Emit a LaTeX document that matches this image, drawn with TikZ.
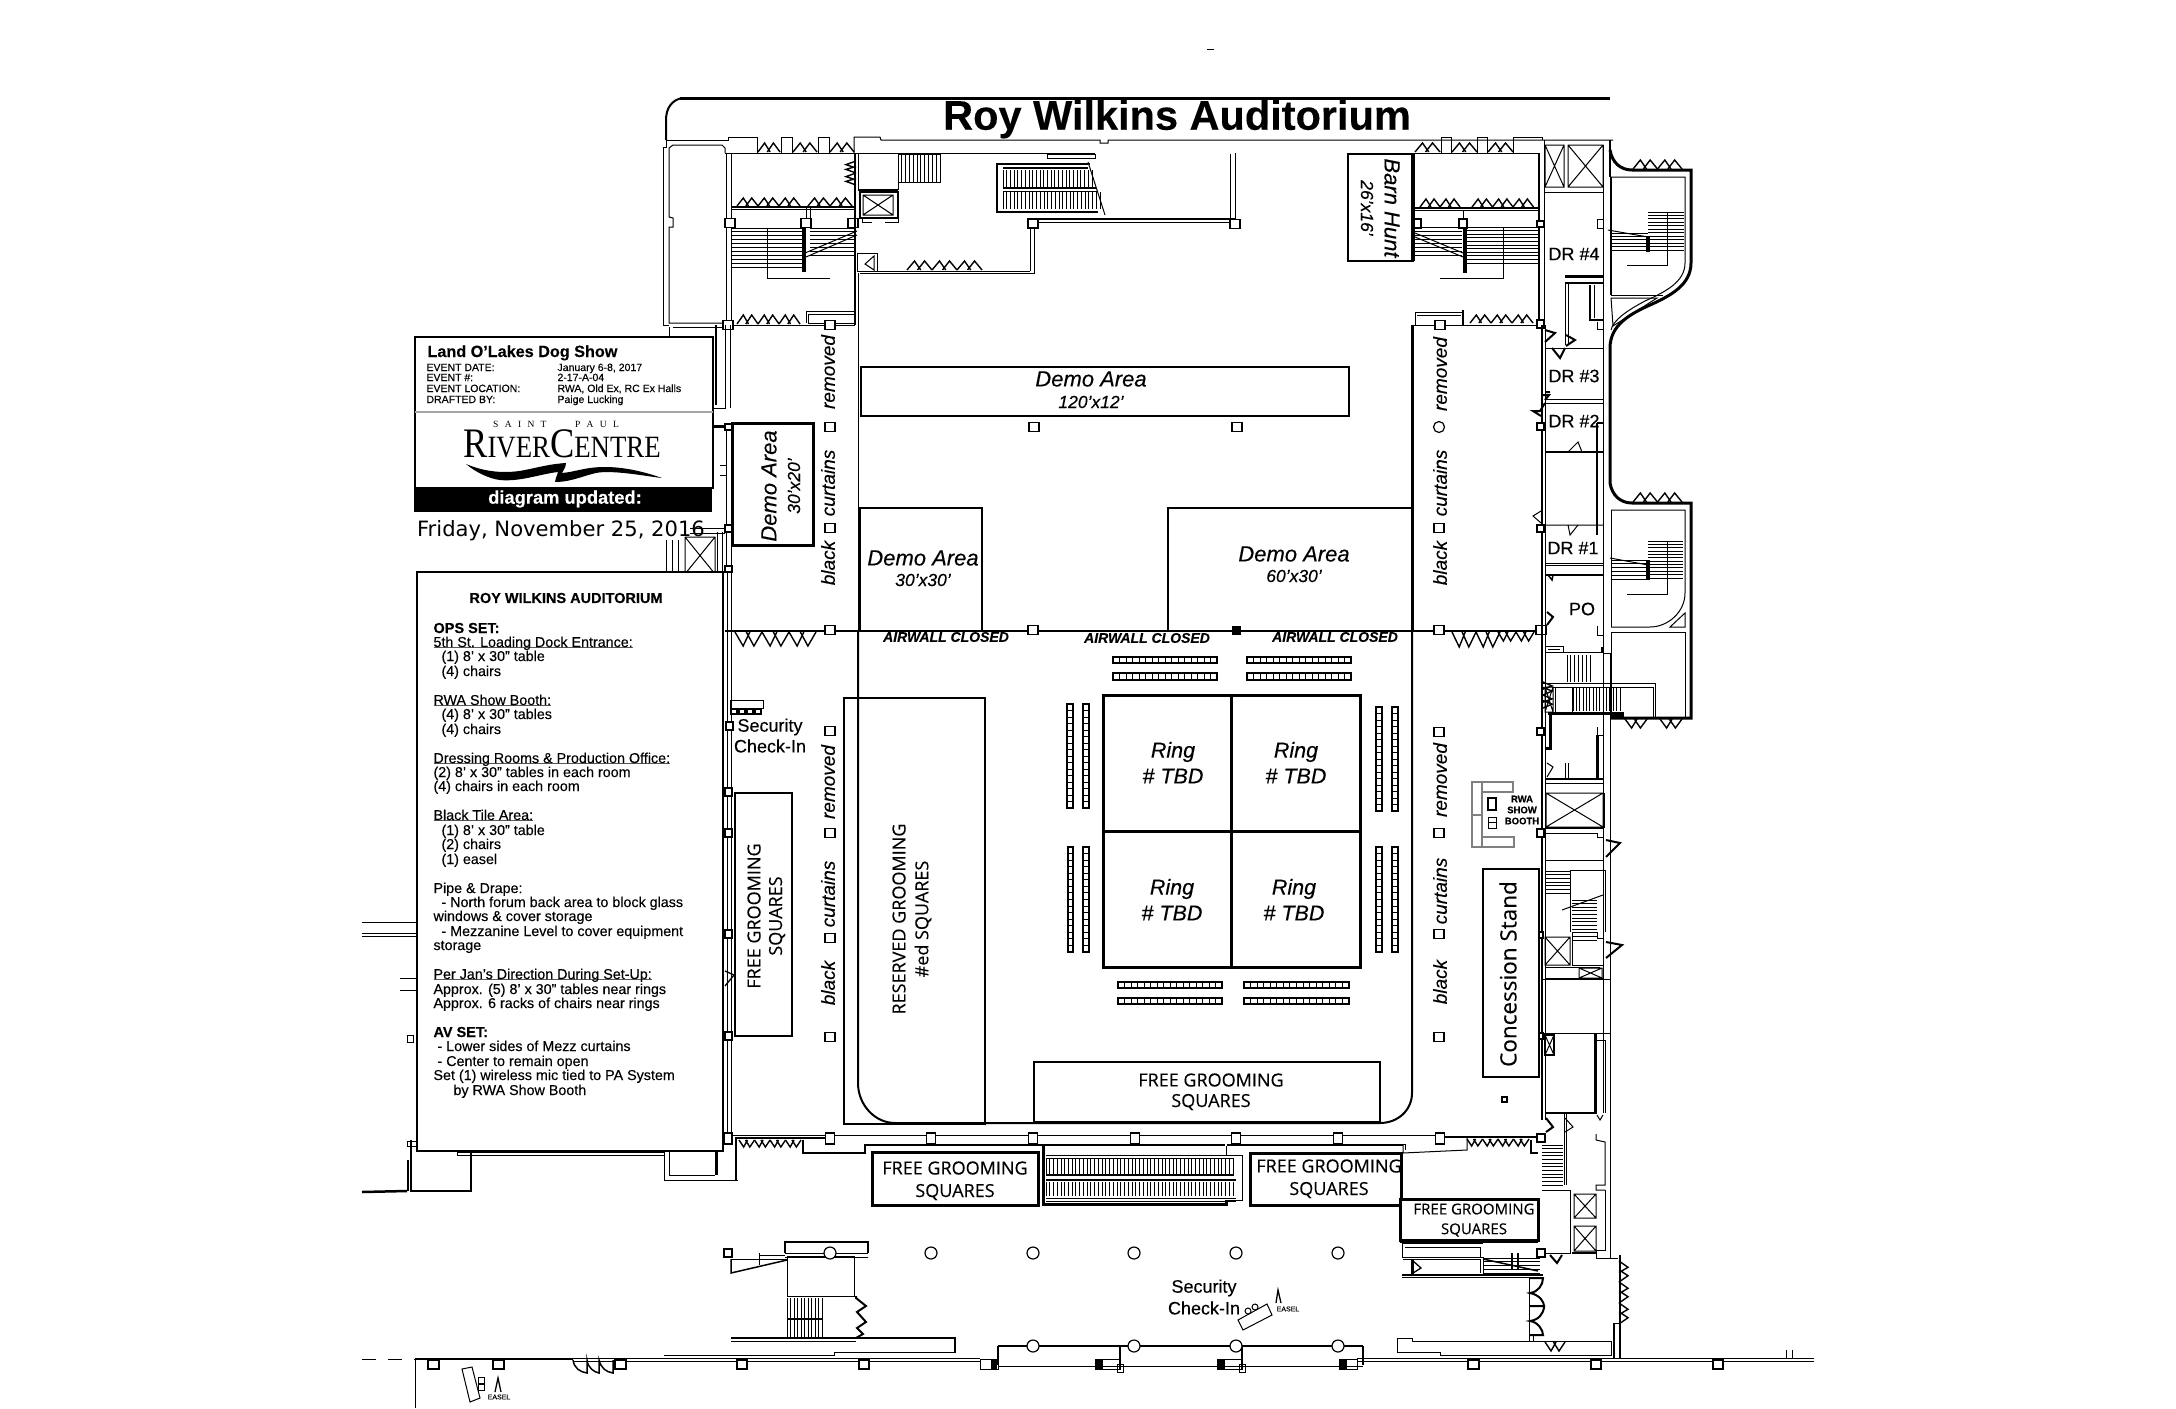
\documentclass[tikz,border=0pt]{standalone}
\usepackage{fontspec}
\usepackage{graphicx}
\setmainfont{Liberation Sans}[FakeBold=0.25]
\newfontfamily\opensans{Open Sans}[FakeBold=0.25]
\newfontfamily\dvs{DejaVu Sans}
\newfontfamily\lserif{Liberation Serif}
\newcommand{\fs}[1]{\fontsize{#1}{#1}\selectfont}
\newcommand{\pil}[2]{\draw[fill=white,line width=1.2pt] (#1-5,#2-4.5) rectangle (#1+5,#2+4.5);}
\newcommand{\pilw}[4]{\draw[fill=white,line width=1.2pt] (#1,#2) rectangle (#3,#4);}
\newcommand{\cir}[2]{\draw[fill=white,line width=1.2pt] (#1,#2) circle (6);}
\newcommand{\xbox}[4]{\draw (#1,#2) rectangle (#3,#4) (#1,#2) -- (#3,#4) (#1,#4) -- (#3,#2);}
\newcommand{\hst}[5]{\foreach \k in {0,...,#5} \draw[line width=.9pt] (#1,{#3+\k*(#4-#3)/#5}) -- (#2,{#3+\k*(#4-#3)/#5});}
\newcommand{\vst}[5]{\foreach \k in {0,...,#5} \draw[line width=.9pt] ({#3+\k*(#4-#3)/#5},#1) -- ({#3+\k*(#4-#3)/#5},#2);}
% x y rotation count unit-width height
\newcommand{\zig}[6]{\begin{scope}[shift={(#1,#2)},rotate=#3]
 \foreach \k in {1,...,#4} \draw[line width=1.4pt,line join=miter] ({(\k-1)*#5},0) -- ({(\k-1+.3)*#5},-#6) -- ({(\k-1+.55)*#5},0) ({(\k-1+.42)*#5},0) -- ({(\k-1+.7)*#5},-#6) -- ({\k*#5},0);
 \end{scope}}
\newcommand{\chairs}[5]{\draw[line width=1.1pt,fill=white] (#1,#2) rectangle (#3,#4);
 \foreach \k in {1,...,15} \draw[line width=1pt] ({#1+(#5)*\k*(#3-#1)/16},{#2+(1-#5)*\k*(#4-#2)/16}) -- ({#1+(#5)*\k*(#3-#1)/16+(1-#5)*(#3-#1)},{#2+(1-#5)*\k*(#4-#2)/16+(#5)*(#4-#2)});}
\newcommand{\tl}[3]{\node[anchor=base west,inner sep=0pt] at (#1,#2) {\fs{14.3}#3};}
\newsavebox{\ulbox}
\newcommand{\ulin}[1]{\sbox{\ulbox}{#1}\rlap{\textcolor{black!65}{\rule[-1.3pt]{\wd\ulbox}{.9pt}}}\usebox{\ulbox}}
\tikzset{w2/.style={line width=2pt},w3/.style={line width=3pt},w4/.style={line width=4pt},lab/.style={inner sep=0pt,align=center}}
\begin{document}
\begin{tikzpicture}[x=1pt,y=-1pt,line width=1pt]
\useasboundingbox (0,0) rectangle (2176,1408);
\fill[white] (0,0) rectangle (2176,1408);
% tiny top mark
\draw (1207,49) -- (1214,49);
% ---------- top wall
\draw[w3] (680,98) -- (1610,98);
\draw[w2] (666,140) -- (666,120) .. controls (666,108) and (672,100) .. (682,98);
\draw (666,140) -- (728,140) -- (728,137) -- (757,137) -- (757,153);
\draw (854,153) -- (854,137) -- (880,137) -- (881,140) -- (1100,140) -- (1100,143) -- (1108,143) -- (1108,140) -- (1613,140);
\draw (725,153) -- (855,153);
\draw (855,153) -- (1095,153);
\draw (781,137) rectangle (792,153) (818,137) rectangle (829,153);
\zig{758}{152}{0}{1}{22}{9} \zig{793}{152}{0}{1}{24}{9} \zig{830}{152}{0}{1}{24}{9}
% ---------- left room
\draw (666,140) -- (666,147) -- (663,147) -- (663,325) -- (669,325) (669,327) -- (669,337);
\draw (725,153) -- (725,148) -- (722,145) -- (673,145) -- (669,148) -- (669,217) -- (673,218) -- (673,227) -- (669,227) -- (669,323) -- (673,323) -- (725,323);
\draw (673,327) -- (725,327);
\draw (726,153) -- (726,325) (731,153) -- (731,325);
% ---------- upper-left stair
\draw[w2] (731,207) -- (855,207);
\draw (731,209) -- (855,209);
\zig{737}{206}{0}{3}{21}{8} \zig{808}{206}{0}{2}{22}{8}
\draw (806,208) -- (806,220) (810,208) -- (810,220);
\hst{731}{802}{228}{267}{10}
\hst{810}{855}{228}{255}{7}
\draw[w4] (804,227) -- (804,272);
\draw (767,228) -- (767,278) -- (830,278);
\draw (805,253) -- (857,231) (806,257) -- (857,235);
\pil{730}{223} \pil{806}{223} \pil{853}{223}
\zig{856}{185}{90}{2}{12}{10}
\draw[w2] (855,153) -- (855,325);
\draw (858,153) -- (858,190);
\draw[w2] (858,190) -- (898,190);
\draw (898,153) -- (898,190);
\draw[w2] (860,192) rectangle (898,218);
\xbox{863}{195}{893}{215}
\draw (862,218) -- (862,222) -- (872,222) (885,222) -- (898,222) -- (898,218);
\draw (898,154) rectangle (940,182);
\vst{154}{182}{898}{940}{11}
\draw (857,253) rectangle (877,271);
\draw (874,256) -- (865,264) -- (874,270) -- cycle;
\draw (858,273) -- (858,631);
\draw (858,271) -- (1030,271) (860,273) -- (1034,273) -- (1034,222);
\zig{907}{270}{0}{3}{25}{9}
\draw (1030,271) -- (1030,222);
\pilw{1028}{219}{1038}{228}
\draw[w2] (1038,219) -- (1235,219);
\draw (1038,222) -- (1230,222) (1230,154) -- (1230,219) (1235,153) -- (1235,222);
\pil{1235}{224}
% escalator top
\draw[line width=2.5pt] (1090,164) -- (997,164) -- (997,212) -- (1098,212);
\vst{170}{187}{1003}{1092}{24}
\vst{192}{209}{1003}{1100}{26}
\draw[w2] (1003,168) -- (1088,168);
\draw[w2] (1003,188) -- (1096,188);
\draw (1003,191) -- (1098,191);
\draw (1088,162) -- (1105,215);
\draw (1047,154) rectangle (1095,158);
% ---------- lower left of upper stair
\zig{737}{324}{0}{3}{21}{9}
\draw (731,325) -- (855,325);
\draw (806,323) -- (806,311) -- (855,311);
\draw (808,314) rectangle (854,323);
\pil{728}{325}
\pil{830}{325}
% ---------- left hall walls
\draw (725,325) -- (725,408) -- (713,408) (730,325) -- (730,408);
\draw[line width=2.5pt] (716,325) -- (716,405);
\draw[w3] (713,426) -- (732,426);
\draw (726,428) -- (726,566) (731,428) -- (731,566);
\pilw{725}{424}{732}{430}
\pilw{725}{525}{732}{532}
\pilw{725}{566}{732}{572}
\draw (690,528) -- (725,528) (690,533) -- (725,533);
\draw (717,532) -- (717,572) (722,532) -- (722,572);
\xbox{685}{537}{715}{574}
\draw (666,540) -- (666,572) (672,540) -- (672,572) (678,540) -- (678,572);
\draw (720,475) -- (726,475) (720,465) -- (726,465);
\draw (727,572) -- (727,1140) (731,572) -- (731,1140);
\foreach \yy in {792,833,934,1036} {\pilw{725}{\yy-4}{732}{\yy+4}}
\pilw{724}{1133}{732}{1144}
\draw[line width=1.3pt] (725,971) -- (734,975) -- (725,986);
% airwall
\draw[line width=2.5pt] (725,631) -- (1540,631);
\zig{735}{632}{0}{3}{27}{-14}
\zig{1452}{632}{0}{2}{24}{-15}
\zig{1498}{632}{0}{2}{18}{-9}
\pil{830}{630} \pil{1033}{630} \pil{1439}{630} \pil{1541}{630}
\fill (1232,626) rectangle (1241,635);
% main hall
\draw[w3] (1412,325) -- (1412,631);
\draw[w2] (1412,631) -- (1412,1093) .. controls (1412,1110) and (1398,1123) .. (1380,1123) -- (895,1123) .. controls (875,1123) and (858,1105) .. (858,1083) -- (858,631);
\draw (1412,325) -- (1540,325);
\foreach \p/\q in {830/427,1034/427,1237/427} {\pil{\p}{\q}}
\pil{830}{528}
\pil{1439}{528}
\draw[line width=1.2pt,fill=white] (1439,427) circle (5.5);
\pil{830}{731} \pil{830}{833} \pil{830}{938} \pil{830}{1037}
\pil{1439}{732} \pil{1439}{833} \pil{1439}{934} \pil{1439}{1037}
% curtain labels
\foreach \xx/\ya/\yb/\yc in {828/372/483/563,1440/374/483/563,828/782/894/983,1440/780/891/982} {
\node[lab,rotate=90] at (\xx,\ya) {\fs{19}\itshape removed};
\node[lab,rotate=90] at (\xx,\yb) {\fs{19}\itshape curtains};
\node[lab,rotate=90] at (\xx,\yc) {\fs{19}\itshape black};
}
% ---------- upper-right stair
\zig{1415}{152}{0}{1}{25}{9} \zig{1452}{152}{0}{1}{25}{9} \zig{1488}{152}{0}{1}{25}{9}
\draw (1441,137) rectangle (1451,153) (1477,137) rectangle (1487,153);
\draw (1513,153) -- (1513,137) -- (1542,137) -- (1542,140);
\draw (1413,153) -- (1539,153);
\draw[w2] (1415,208) -- (1538,208);
\draw (1415,210) -- (1538,210) (1463,210) -- (1463,219);
\zig{1420}{207}{0}{2}{20}{8} \zig{1472}{207}{0}{3}{20.5}{8}
\hst{1415}{1462}{227}{255}{7}
\hst{1465}{1538}{227}{263}{10}
\draw[w4] (1465,228) -- (1465,273);
\draw (1503,227) -- (1503,278) -- (1440,278);
\draw (1415,233) -- (1463,253) (1415,237) -- (1463,257);
\draw[fill=white,line width=2pt] (1413,219) rectangle (1421,228);
\pilw{1459}{219}{1467}{228}
\draw (1415,325) -- (1415,312) -- (1463,312) (1417,315) -- (1461,315);
\draw[w2] (1463,310) -- (1463,325);
\pil{1440}{325}
\zig{1470}{323}{0}{3}{21}{8}
\draw[w2] (1539,153) -- (1539,325);
\draw (1544,140) -- (1544,325);
\pilw{1537}{221}{1544}{227}
\pilw{1537}{320}{1544}{328}
% ---------- right rooms
\draw[w2] (1542,325) -- (1542,1120);
\draw (1545,325) -- (1545,1120);
\draw (1603,145) -- (1603,1033);
\draw (1545,192) -- (1603,192);
\xbox{1545}{145}{1564}{187} \xbox{1568}{145}{1603}{187}
\draw[w2] (1610,140) -- (1610,177);
\draw (1597,224) -- (1597,228) -- (1603,228) (1597,224) -- (1597,219) -- (1603,219);
\draw[w3] (1565,276) -- (1603,276);
\draw[w2] (1565,283) -- (1603,283);
\draw (1565,283) -- (1565,345) (1568,283) -- (1568,345);
\draw[w2] (1590,285) -- (1590,320) -- (1603,320);
\draw (1594,285) -- (1594,318);
\draw (1597,322) -- (1597,329) -- (1603,329);
\draw[w2] (1545,330) -- (1555,333) -- (1545,342) ;
\draw[w2] (1552,348) -- (1560,358) -- (1565,348);
\draw[w2] (1566,335) -- (1575,340) -- (1566,346);
\draw (1545,348) -- (1603,348) (1545,399) -- (1603,399) (1545,403) -- (1603,403);
\draw[w2] (1545,392) -- (1550,392) (1545,400) -- (1549,395) -- (1541,395);
\draw[w2] (1545,403) -- (1540,411) -- (1533,411) -- (1541,416);
\draw[w2] (1545,452) -- (1603,452);
\draw (1568,452) -- (1578,442) -- (1582,452);
\draw[w2] (1597,423) -- (1597,535) (1597,423) -- (1603,423);
\draw (1541,511) -- (1533,516) -- (1541,523) (1545,525) -- (1603,525);
\pilw{1537}{423}{1544}{430}
\pilw{1537}{525}{1544}{532}
\draw (1568,525) -- (1570,535) -- (1578,525);
\draw (1545,563) -- (1603,563) (1545,565) -- (1603,565);
\draw[line width=2.5pt] (1545,575) -- (1603,575);
\draw[line width=1.5pt] (1548,575) -- (1552,580) -- (1553,575);
\draw[w2] (1547,612) -- (1553,617) -- (1547,625);
\draw (1545,610) -- (1545,625);
\draw (1597,626) -- (1597,635) -- (1603,635) (1545,652) -- (1603,652);
\draw (1545,646) rectangle (1563,652);
\draw (1548,649) -- (1560,649);
\fill (1601,647) rectangle (1604,652);
\draw (1603,653) -- (1610,653);
\zig{1543}{682}{-90}{2}{13}{9}
\vst{655}{682}{1567}{1590}{6}
% stair lobby
\draw (1543,683) -- (1655,683) -- (1655,717);
\draw (1552,687) -- (1653,687) -- (1653,717);
\xbox{1545}{687}{1553}{712}
\vst{687}{711}{1573}{1620}{14}
\draw (1555,687) -- (1555,712) (1572,687) -- (1572,712);
\draw[w3] (1548,713) -- (1622,713) -- (1622,716) -- (1611,716);
% outer right structure
\draw[w3] (1610,150) .. controls (1612,162) and (1620,170) .. (1632,170) -- (1691,170) -- (1691,263) .. controls (1691,285) and (1670,296) .. (1650,305) .. controls (1630,314) and (1610,325) .. (1610,348) -- (1610,483) .. controls (1612,495) and (1620,503) .. (1632,503) -- (1691,503) -- (1691,718) -- (1611,718);
\draw (1611,177) -- (1685,177) -- (1685,263) .. controls (1685,282) and (1665,292) .. (1645,301) .. controls (1628,310) and (1613,320) .. (1611,330);
\draw (1611,177) -- (1611,295) -- (1663,295);
\draw (1611,298) -- (1657,298) -- (1613,326) -- cycle;
\draw (1610,177) -- (1610,295);
\zig{1633}{169}{0}{2}{24.5}{9}
\hst{1648}{1684}{212}{250}{11}
\hst{1612}{1648}{233}{250}{5}
\draw[w4] (1648,237) -- (1648,252);
\draw (1608,230) -- (1648,237);
\draw (1667,212) -- (1667,265) -- (1627,265);
% lower flight
\zig{1633}{502}{0}{2}{24.5}{9}
\draw (1611,510) -- (1685,510) -- (1685,593) .. controls (1685,612) and (1668,627) .. (1650,627) -- (1611,627);
\draw (1611,632) -- (1685,632) -- (1685,717);
\draw (1611,510) -- (1611,627) (1611,632) -- (1611,716);
\draw (1670,627) -- (1685,613) -- (1685,627) -- cycle;
\hst{1648}{1683}{541}{578}{11}
\hst{1612}{1648}{560}{579}{5}
\draw[w4] (1648,560) -- (1648,580);
\draw (1610,558) -- (1648,565);
\draw (1667,541) -- (1667,594) -- (1627,594);
\zig{1625}{719}{0}{1}{22}{-9}
\zig{1660}{719}{0}{1}{22}{-9}
\draw (1610,653) -- (1610,1258);
\draw (1603,1033) -- (1603,1113);
% below stair lobby
\draw[w3] (1550,713) -- (1550,748) -- (1545,748);
\pilw{1537}{728}{1544}{735}
\draw (1597,727) -- (1597,735) -- (1603,735);
\draw[w3] (1597,735) -- (1597,779);
\draw (1603,735) -- (1603,779);
\draw[w2] (1545,779) -- (1603,779);
\draw (1565,763) -- (1565,778) (1568,763) -- (1568,778);
\draw (1547,763) -- (1553,767) -- (1547,777);
\draw (1545,783) -- (1603,783);
\xbox{1546}{793}{1603}{827}
\draw[line width=2.5pt] (1546,828) -- (1604,828) (1604,793) -- (1604,828);
\pilw{1537}{829}{1544}{837}
\draw (1545,833) -- (1597,833) -- (1597,837) -- (1603,837);
\draw[w2] (1606,857) -- (1620,843) -- (1606,840);
\draw (1545,860) -- (1603,860);
\draw (1570,870) -- (1605,870) -- (1605,932);
\draw (1570,870) -- (1570,932) (1572,932) -- (1572,965);
\hst{1545}{1570}{871}{893}{6}
\hst{1572}{1597}{900}{940}{11}
\draw (1562,910) -- (1603,895);
\draw (1597,932) -- (1597,938) -- (1603,938);
\draw[w2] (1606,958) -- (1622,945) -- (1606,942);
\xbox{1545}{937}{1570}{965}
\draw (1572,965) -- (1603,965);
\draw (1545,967) -- (1600,967);
\draw[line width=2.5pt] (1545,979) -- (1603,979);
\xbox{1579}{968}{1602}{978}
\pilw{1537}{932}{1543}{938}
\pilw{1537}{1033}{1543}{1039}
\draw (1543,979) -- (1610,979) (1543,1033) -- (1610,1033);
\draw[w2] (1545,1035) rectangle (1554,1055);
\draw (1545,1035) -- (1554,1055) (1545,1055) -- (1554,1035);
\draw[w3] (1595,1033) -- (1595,1113);
\draw (1597,1040) -- (1605,1040) -- (1605,1113);
\draw[w2] (1545,1113) -- (1597,1113);
\draw (1564,1113) -- (1564,1185) (1566,1113) -- (1566,1185);
\draw[w2] (1546,1118) -- (1553,1127) -- (1546,1132);
\draw (1565,1118) -- (1573,1127) -- (1565,1132);
\draw (1597,1115) -- (1600,1120) -- (1603,1115);
\draw (1596,1134) -- (1596,1140) -- (1605,1142) -- (1605,1185) -- (1596,1185) -- (1596,1190) -- (1605,1190);
\hst{1542}{1563}{1145}{1185}{11}
\pilw{1537}{1134}{1545}{1142}
% lift block bottom right
\draw (1542,1190) -- (1570,1190) (1570,1190) -- (1570,1253) -- (1545,1253);
\xbox{1574}{1194}{1596}{1218}
\xbox{1574}{1226}{1596}{1251}
\draw[w2] (1572,1253) -- (1596,1253);
\draw (1605,1190) -- (1605,1250) -- (1596,1250) -- (1596,1258) -- (1618,1258);
\draw (1567,1190) -- (1570,1190);
\pilw{1537}{1249}{1545}{1257}
\draw[w2] (1550,1255) -- (1557,1263) -- (1562,1255);
\draw[w2] (1620,1255) -- (1620,1358);
\draw (1611,1258) -- (1615,1258);
\zig{1619}{1261}{-90}{3}{21}{9}
\draw[w2] (1614,1323) -- (1614,1358);
\draw (1614,1323) -- (1620,1323);
% entrance door arcs
\draw (1529,1278) -- (1529,1341) (1533,1335) -- (1533,1341);
\draw[w2] (1530,1278) -- (1543,1278) .. controls (1543,1285) and (1538,1292) .. (1530,1293) .. controls (1540,1295) and (1544,1302) .. (1544,1306) -- (1530,1306) -- (1544,1306) .. controls (1544,1314) and (1538,1320) .. (1530,1321) .. controls (1538,1322) and (1543,1330) .. (1543,1335) -- (1530,1335);
\draw (1397,1338) -- (1412,1338) -- (1412,1341) -- (1611,1341) -- (1611,1355) -- (1440,1355) -- (1440,1352) -- (1397,1352) -- cycle;
\zig{1545}{1342}{0}{1}{20}{-9}
% bottom line
\draw[w2] (415,1359) -- (573,1359);
\draw (573,1358) -- (980,1358) (573,1361) -- (980,1361) (1357,1358) -- (1814,1358) (1357,1361) -- (1814,1361);
\draw (1786,1350) -- (1786,1358) (1792,1350) -- (1792,1358);
\draw[dashed,dash pattern=on 14pt off 12pt] (362,1359) -- (415,1359);
\draw (415,1360) -- (415,1408);
\foreach \xa/\xb in {428/439,493/504,615/626,737/747,859/869,1468/1479,1591/1601,1713/1723} {\draw[fill=white,line width=1.2pt] (\xa,1360) rectangle (\xb,1369);}
\draw[line width=1.5pt] (573,1360) .. controls (574,1368) and (580,1372) .. (587,1373) -- (587,1360) .. controls (588,1368) and (594,1372) .. (599,1373) -- (599,1360) .. controls (601,1368) and (606,1372) .. (613,1373) -- (613,1360);
% desk + easel (lower left)
\draw[fill=white] (462,1369) -- (472,1367) -- (480,1398) -- (470,1402) -- cycle;
\draw[fill=white] (478,1377) rectangle (484,1383) (478,1384) rectangle (484,1390);
\draw[line width=1.3pt] (495,1392) -- (498,1378) -- (501,1392);
\node[lab] (easela) at (499,1397) {\fs{7}EASEL};
% south colonnade
\draw[line width=2.5pt] (998,1346) -- (1363,1346);
\draw (998,1366) -- (1363,1366);
\draw[line width=1.5pt] (998,1346) -- (998,1365);
\draw[line width=2.5pt] (1120,1346) -- (1120,1370) (1242,1346) -- (1242,1370);
\draw[line width=1.5pt] (1363,1346) -- (1363,1365);
\foreach \xx in {1033,1134,1236,1338} {\cir{\xx}{1346}}
\draw (980,1359) rectangle (998,1369) (1095,1359) rectangle (1120,1369) (1217,1359) rectangle (1242,1369) (1339,1359) rectangle (1357,1369);
\foreach \xa/\xb in {991/997,1095/1103,1217/1225,1340/1347} {\fill (\xa,1360) rectangle (\xb,1369);}
\draw (1117,1364) rectangle (1123,1372) (1239,1364) rectangle (1245,1372);
\node[lab] (secb1) at (1204,1288) {\fs{18}Security};
\node[lab] (secb2) at (1204,1308) {\fs{18}Check-In};
\draw[fill=white] (1238,1320) -- (1267,1304) -- (1272,1315) -- (1243,1330) -- cycle;
\draw[fill=white] (1248,1311) circle (3) (1255,1307) circle (3);
\draw[line width=1.3pt] (1276,1303) -- (1278,1290) -- (1281,1303);
\node[lab] (easelb) at (1288,1309) {\fs{7}EASEL};
% central west stair
\draw (731,1259) -- (787,1259);
\draw[line width=1.5pt] (731,1259) -- (731,1273) -- (787,1260);
\draw (759,1253) -- (759,1265) (759,1255) -- (785,1255);
\pilw{724}{1249}{732}{1257}
\draw[line width=2.5pt] (785,1253) -- (785,1242) -- (868,1242) -- (868,1253);
\draw (785,1253) -- (868,1253) (785,1257) -- (868,1257) -- (854,1257);
\draw (787,1256) rectangle (854,1296);
\foreach \xx in {830,931,1033,1134,1236,1338} {\cir{\xx}{1253}}
\vst{1298}{1338}{787}{822}{10}
\draw[line width=1.5pt] (787,1319) -- (822,1319);
\draw[w2] (856,1296) -- (856,1298) -- (866,1306) -- (857,1312) -- (866,1322) -- (857,1328) -- (863,1334) -- (856,1338);
\draw[line width=2.5pt] (731,1338) -- (955,1338) -- (955,1353);
\draw (731,1341) -- (856,1341);
\draw (664,1355) -- (834,1355) -- (834,1352) -- (955,1352);
% south wall strip
\draw (732,1135) -- (1436,1135);
\draw[line width=2.5pt] (735,1138) -- (825,1138);
\draw[w2] (736,1138) -- (736,1180);
\zig{739}{1140}{0}{4}{15.5}{-7}
\draw[w2] (803,1140) -- (803,1153) -- (865,1153) -- (865,1145) -- (1225,1145);
\draw[w2] (1227,1145) -- (1403,1145);
\draw (1403,1145) -- (1403,1153) -- (1467,1150) -- (1467,1138);
\draw (1405,1150) -- (1405,1144) -- (1380,1144);
\draw[line width=2.5pt] (1440,1137) -- (1540,1137);
\zig{1467}{1139}{0}{4}{15.5}{-7}
\draw[line width=2.5pt] (1531,1140) -- (1531,1153) -- (1538,1153);
\foreach \xx in {830,931,1033,1135,1236,1338,1440} {\draw[fill=white,line width=1.2pt] (\xx-4.5,1133) rectangle (\xx+4.5,1144);}
\pilw{1537}{1134}{1545}{1142}
\draw (664,1152) -- (664,1180) -- (738,1180);
\draw (669,1152) -- (669,1175) -- (715,1175);
\draw[w3] (716,1152) -- (716,1175);
\draw (457,1152) rectangle (664,1155);
\draw[line width=2.5pt] (411,1140) -- (411,1191) -- (471,1191) -- (471,1152);
\draw[line width=2.5pt] (362,1192) -- (407,1191);
\draw[w2] (408,1160) -- (408,1191);
\draw (407,1141) rectangle (417,1146);
\draw (362,922) -- (417,922) (362,933) -- (417,933) (362,936) -- (417,936) (400,978) -- (417,978) (400,990) -- (417,990);
\draw (407,1035) rectangle (413,1042);
% west of free grooming stair
\draw[w2] (1402,1243) -- (1483,1243);
\draw (1402,1243) -- (1402,1257) -- (1483,1257) -- (1483,1275);
\draw (1405,1247) -- (1480,1247) -- (1480,1257);
\draw (1403,1259) -- (1480,1259) -- (1480,1273);
\draw[w3] (1412,1259) -- (1412,1274);
\draw[line width=1.3pt] (1413,1261) -- (1421,1268) -- (1413,1273);
\draw[w2] (1402,1275) -- (1543,1275);
\draw (1402,1277) -- (1543,1277);
\hst{1483}{1540}{1258}{1273}{4}
\draw[line width=1.5pt] (1483,1259) -- (1538,1271);
\draw[w2] (1512,1253) -- (1512,1270) (1518,1253) -- (1518,1270);
% escalator south
\draw[w3] (1043,1146) -- (1043,1204) -- (1226,1204) -- (1226,1200);
\draw (1226,1146) -- (1226,1155);
\draw (1046,1155) -- (1236,1155) -- (1242,1155) -- (1242,1200) -- (1226,1200);
\draw (1046,1158) -- (1234,1158);
\vst{1159}{1174}{1046}{1233}{50}
\vst{1182}{1196}{1046}{1233}{50}
\draw[w2] (1046,1175) -- (1234,1175);
\draw[w2] (1046,1180) -- (1236,1180);
\draw (1046,1198) -- (1236,1198) (1046,1201) -- (1236,1201);
% ---------- boxes with labels
\draw[line width=2.5pt] (861,367) rectangle (1349,416);
\node[lab] (d1) at (1091,379) {\fs{22}\itshape Demo Area};
\node[lab] (d1b) at (1091,402) {\fs{17.5}\itshape 120'x12'};
\draw[line width=2.5pt] (860,508) rectangle (982,631);
\node[lab] (d2) at (923,558) {\fs{22}\itshape Demo Area};
\node[lab] (d2b) at (923,580) {\fs{17.5}\itshape 30'x30'};
\draw[line width=2.5pt] (1168,508) rectangle (1412,631);
\node[lab] (d3) at (1294,554) {\fs{22}\itshape Demo Area};
\node[lab] (d3b) at (1294,576) {\fs{17.5}\itshape 60'x30'};
\draw[w3,fill=white] (732,423) rectangle (813,545);
\node[lab,rotate=90] (d4) at (769,486) {\fs{22}\itshape Demo Area};
\node[lab,rotate=90] (d4b) at (794,486) {\fs{17.5}\itshape 30'x20'};
\draw[line width=2pt,fill=white] (1348,154) rectangle (1413,261);
\draw[w4] (1413,154) -- (1413,261);
\node[lab,rotate=-90] (bh) at (1392,208) {\fs{22}\itshape Barn Hunt};
\node[lab,rotate=-90] (bhb) at (1367,208) {\fs{17.5}\itshape 26'x16'};
% rings
\draw[w3] (1103,695) rectangle (1360,967) (1231,695) -- (1231,967) (1103,831) -- (1360,831);
\foreach \xx/\yy in {1173/752,1296/752,1172/889,1294/889} {
 \node[lab] at (\xx,\yy) {\fs{21.5}\itshape Ring};
 \node[lab] at (\xx,\yy+24) {\fs{21.5}\itshape \# TBD};
}
\foreach \xa/\xb in {1113/1217,1247/1351} {\chairs{\xa}{657}{\xb}{663}{1} \chairs{\xa}{673}{\xb}{680}{1}}
\foreach \xa/\xb in {1118/1222,1244/1349} {\chairs{\xa}{982}{\xb}{988}{1} \chairs{\xa}{998}{\xb}{1004}{1}}
\chairs{1067}{704}{1073}{808}{0} \chairs{1083}{704}{1089}{808}{0}
\chairs{1068}{847}{1073}{952}{0} \chairs{1083}{847}{1089}{952}{0}
\chairs{1376}{707}{1382}{811}{0} \chairs{1392}{707}{1398}{811}{0}
\chairs{1376}{847}{1382}{952}{0} \chairs{1392}{847}{1398}{952}{0}
\node[lab] (aw1) at (946,637) {\fs{14}\bfseries\itshape AIRWALL CLOSED};
\node[lab] (aw2) at (1147,638) {\fs{14}\bfseries\itshape AIRWALL CLOSED};
\node[lab] (aw3) at (1335,637) {\fs{14}\bfseries\itshape AIRWALL CLOSED};
% grooming boxes
\draw[line width=2.5pt] (844,698) rectangle (985,1124);
\node[lab,rotate=90] (rg1) at (899,919) {\opensans\fs{18}RESERVED GROOMING};
\node[lab,rotate=90] (rg2) at (923,919) {\opensans\fs{18}\#ed SQUARES};
\draw[line width=2.5pt,fill=white] (735,793) rectangle (792,1036);
\node[lab,rotate=90] (fg1) at (754,916) {\opensans\fs{18}FREE GROOMING};
\node[lab,rotate=90] (fg1b) at (777,916) {\opensans\fs{18}SQUARES};
\draw[line width=2pt,fill=white] (1034,1062) rectangle (1380,1122);
\node[lab] (fg2) at (1211,1080) {\opensans\fs{18}FREE GROOMING};
\node[lab] (fg2b) at (1211,1102) {\opensans\fs{18}SQUARES};
\draw[w3,fill=white] (872,1152) rectangle (1038,1205);
\node[lab] (fg3) at (955,1168) {\opensans\fs{18}FREE GROOMING};
\node[lab] (fg3b) at (955,1192) {\opensans\fs{18}SQUARES};
\draw[w3,fill=white] (1250,1153) rectangle (1401,1205);
\node[lab] (fg4) at (1329,1166) {\opensans\fs{18}FREE GROOMING};
\node[lab] (fg4b) at (1329,1190) {\opensans\fs{18}SQUARES};
\draw[w3,fill=white] (1400,1199) rectangle (1538,1240);
\draw[w4] (1400,1241) -- (1538,1241);
\node[lab] (fg5) at (1474,1209) {\opensans\fs{15}FREE GROOMING};
\node[lab] (fg5b) at (1474,1230) {\opensans\fs{15}SQUARES};
% concession
\draw[line width=2pt,fill=white] (1483,869) rectangle (1539,1077);
\node[lab,rotate=90] (cs) at (1508,974) {\opensans\fs{22.5}Concession Stand};
\draw[w2,fill=white] (1501.5,1096.5) rectangle (1506.5,1101.5);
% RWA booth
\draw[gray,line width=1.3pt] (1472,782) rectangle (1482,847) (1472,815) -- (1482,815) (1482,782) rectangle (1513,792) (1482,837) rectangle (1514,847);
\draw[line width=1.5pt] (1488,798) rectangle (1496,810);
\draw (1488,817) rectangle (1496,828) (1488,822) -- (1496,822);
\node[lab] (rw1) at (1522,799) {\fs{9.5}\bfseries RWA};
\node[lab] (rw2) at (1522,810) {\fs{9.5}\bfseries SHOW};
\node[lab] (rw3) at (1522,821) {\fs{9.5}\bfseries BOOTH};
% room labels
\node[lab] (dr4) at (1574,254) {\fs{18}DR \#4};
\node[lab] (dr3) at (1574,376) {\fs{18}DR \#3};
\node[lab] (dr2) at (1574,421) {\fs{18}DR \#2};
\node[lab] (dr1) at (1573,548) {\fs{18}DR \#1};
\node[lab] (po) at (1582,609) {\fs{18}PO};
% security west
\draw (730,700) rectangle (763,708);
\draw[line width=1.2pt] (731,709) rectangle (737,714) (739,709) rectangle (745,714) (747,709) rectangle (753,714) (755,709) rectangle (761,714);
\pilw{726}{722}{733}{730}
\node[lab] (seca1) at (770,727) {\fs{18}Security};
\node[lab] (seca2) at (770,746) {\fs{18}Check-In};
% title
\node[lab] (title) at (1177,119) {\fs{41.5}\bfseries Roy Wilkins Auditorium};
% ---------- info panel
\draw[line width=2pt,fill=white] (415,337) rectangle (713,488);
\draw[line width=1.5pt,gray!70] (415,412) -- (713,412);
\fill (414,488) rectangle (712,512);
\node[anchor=base west,inner sep=0pt] (ev) at (427,357) {\fs{16.2}\bfseries Land O'Lakes Dog Show};
\node[anchor=base west,inner sep=0pt] (e1) at (426,371) {\fs{10.5}EVENT DATE:};
\node[anchor=base west,inner sep=0pt] (e2) at (426,381) {\fs{10.5}EVENT \#:};
\node[anchor=base west,inner sep=0pt] (e3) at (426,392) {\fs{10.5}EVENT LOCATION:};
\node[anchor=base west,inner sep=0pt] (e4) at (426,403) {\fs{10.5}DRAFTED BY:};
\node[anchor=base west,inner sep=0pt] (f1) at (557,371) {\fs{10.5}January 6-8, 2017};
\node[anchor=base west,inner sep=0pt] (f2) at (557,381) {\fs{10.5}2-17-A-04};
\node[anchor=base west,inner sep=0pt] (f3) at (557,392) {\fs{10.5}RWA, Old Ex, RC Ex Halls};
\node[anchor=base west,inner sep=0pt] (f4) at (557,403) {\fs{10.5}Paige Lucking};
\node[lab] (sp) at (556,424) {\lserif\fs{9.5}S\,\,\,\,A\,\,\,\,I\,\,\,\,N\,\,\,\,T\quad\quad\quad P\,\,\,\,A\,\,\,\,U\,\,\,\,L};
\node[lab] (rc) at (562,444) {\lserif\scalebox{.865}[1]{{\fs{42}R}{\fs{31}IVER}{\fs{42}C}{\fs{31}ENTRE}}};
\fill (466,464) .. controls (485,472) and (505,474) .. (525,470) .. controls (540,467) and (550,464) .. (566,463) .. controls (566,468) and (562,472) .. (562,473) .. controls (575,472) and (585,467) .. (605,467) .. controls (625,467) and (645,472) .. (662,478) .. controls (645,476) and (625,472) .. (605,472) .. controls (590,472) and (575,482) .. (555,482) .. controls (556,476) and (558,474) .. (558,472) .. controls (540,474) and (520,482) .. (500,480) .. controls (490,479) and (475,472) .. (466,464) -- cycle;
\node[lab,text=white] (du) at (565,499) {\fs{18.3}\bfseries diagram updated:};
\node[lab] (fri) at (561,531) {\dvs\fs{21.1}Friday, November 25, 2016};
% ---------- notes panel
\draw[line width=2.5pt,fill=white] (417,572) rectangle (723,1151);
\node[lab] (nt) at (566,598) {\fs{14.5}\bfseries ROY WILKINS AUDITORIUM};
\tl{433}{633}{\fs{14.5}\bfseries OPS SET:}
\tl{433}{647}{\ulin{5th St. Loading Dock Entrance:}}
\tl{441}{661}{(1) 8' x 30" table}
\tl{441}{676}{(4) chairs}
\tl{433}{705}{\ulin{RWA Show Booth:}}
\tl{441}{719}{(4) 8' x 30" tables}
\tl{441}{734}{(4) chairs}
\tl{433}{763}{\ulin{Dressing Rooms \& Production Office:}}
\tl{433}{777}{(2) 8' x 30" tables in each room}
\tl{433}{791}{(4) chairs in each room}
\tl{433}{820}{\ulin{Black Tile Area:}}
\tl{441}{835}{(1) 8' x 30" table}
\tl{441}{849}{(2) chairs}
\tl{441}{864}{(1) easel}
\tl{433}{893}{Pipe \& Drape:}
\tl{441}{907}{- North forum back area to block glass}
\tl{433}{921}{windows \& cover storage}
\tl{441}{936}{- Mezzanine Level to cover equipment}
\tl{433}{950}{storage}
\tl{433}{979}{\ulin{Per Jan's Direction During Set-Up:}}
\tl{433}{994}{Approx. (5) 8' x 30" tables near rings}
\tl{433}{1008}{Approx. 6 racks of chairs near rings}
\tl{433}{1037}{\fs{14.5}\bfseries AV SET:}
\tl{437}{1051}{- Lower sides of Mezz curtains}
\tl{437}{1066}{- Center to remain open}
\tl{433}{1080}{Set (1) wireless mic tied to PA System}
\tl{453}{1095}{by RWA Show Booth}
\end{tikzpicture}
\end{document}
